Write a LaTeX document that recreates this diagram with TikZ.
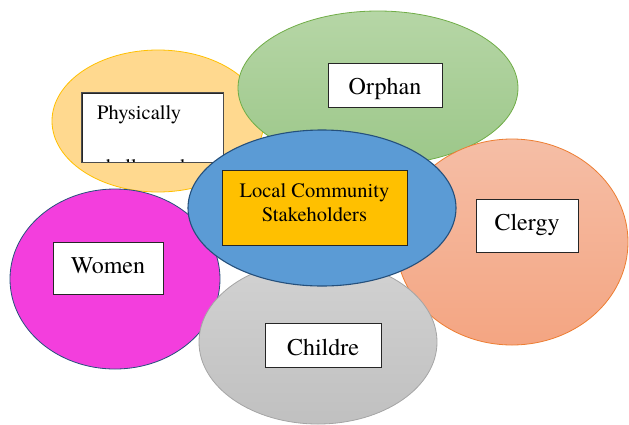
\documentclass[tikz,border=0pt]{standalone}
\usepackage{fontspec}
\setmainfont{texgyretermes}[Extension=.otf, UprightFont=*-regular, BoldFont=*-bold,
    ItalicFont=*-italic, BoldItalicFont=*-bolditalic]
\usepackage{xcolor}
\usetikzlibrary{shapes,positioning,calc}

\definecolor{sunfill}{HTML}{FFD98F}
\definecolor{sunline}{HTML}{FFC000}
\definecolor{leaftop}{HTML}{B6D6A6}
\definecolor{leafbot}{HTML}{9CC789}
\definecolor{leafline}{HTML}{70AD47}
\definecolor{peachtop}{HTML}{F5BEA6}
\definecolor{peachbot}{HTML}{F4A582}
\definecolor{peachline}{HTML}{ED7D31}
\definecolor{pinkfill}{HTML}{F33EDD}
\definecolor{navyline}{HTML}{25507C}
\definecolor{greytop}{HTML}{D2D2D2}
\definecolor{greybot}{HTML}{C0C0C0}
\definecolor{greyline}{HTML}{A5A5A5}
\definecolor{hubfill}{HTML}{5B9BD5}
\definecolor{hubbox}{HTML}{FFC000}

\begin{document}
\begin{tikzpicture}[x=1pt, y=-1pt,
    blob/.style={ellipse, inner sep=0pt, line width=0.8pt},
    tag/.style={draw=black!85, fill=white, inner sep=0pt, line width=0.8pt,
        text height=16.4pt, font=\fontsize{24}{28}\selectfont}]
    \useasboundingbox (0,0) rectangle (629,424);

    % Physically challenged
    \node[blob, fill=sunfill, draw=sunline, minimum width=212pt, minimum height=142pt] (sun) at (158,121) {};
    \node[tag, minimum width=141pt, minimum height=69pt] (physbox) at (152.5,127.5) {};
    \begin{scope}
        \clip (physbox.north west) rectangle (physbox.south east);
        \node[anchor=base west, inner sep=0pt, font=\fontsize{20.5}{24}\selectfont] (physA) at (97,119) {Physically};
        \node[anchor=base west, inner sep=0pt, font=\fontsize{20.5}{24}\selectfont] (physB) at (97,173) {challenged};
    \end{scope}
    \draw[draw=black!70, line width=0.8pt] (physbox.north west) rectangle (physbox.south east);

    % Orphan
    \node[blob, top color=leaftop, bottom color=leafbot, draw=leafline, minimum width=280pt, minimum height=154pt] (leaf) at (378,88) {};
    \node[tag, text height=18pt, text depth=0pt, minimum width=114pt, minimum height=44pt] (orphan) at (385,85) {Orphan\hspace{7pt}};

    % Clergy
    \node[blob, top color=peachtop, bottom color=peachbot, draw=peachline, minimum width=232pt, minimum height=206pt] (peach) at (512,242) {};

    % Women
    \node[blob, fill=pinkfill, draw=navyline, minimum width=210pt, minimum height=180pt] (pink) at (115,279) {};

    % Childre
    \node[blob, top color=greytop, bottom color=greybot, draw=greyline, minimum width=238pt, minimum height=164pt] (grey) at (318,342) {};

    % centre
    \node[blob, fill=hubfill, draw=navyline, line width=1.1pt, minimum width=268pt, minimum height=156pt] (hub) at (322,208) {};
    \node[draw=black!85, fill=hubbox, inner sep=0pt, line width=0.8pt, align=center, text depth=11pt,
        minimum width=185pt, minimum height=75pt, font=\fontsize{20.5}{24}\selectfont] (stake) at (314.5,207.5) {Local Community\\Stakeholders};

    \node[tag, text depth=7.4pt, minimum width=102pt, minimum height=53pt] (clergy) at (527,225.5) {Clergy\hspace{5pt}};
    \node[tag, text depth=6.4pt, minimum width=110pt, minimum height=52pt] (women) at (108,268) {Women};
    \node[tag, text height=20pt, text depth=0pt, minimum width=116pt, minimum height=44pt] (childre) at (323,345) {Childre\hspace{12pt}};
\end{tikzpicture}
\end{document}
